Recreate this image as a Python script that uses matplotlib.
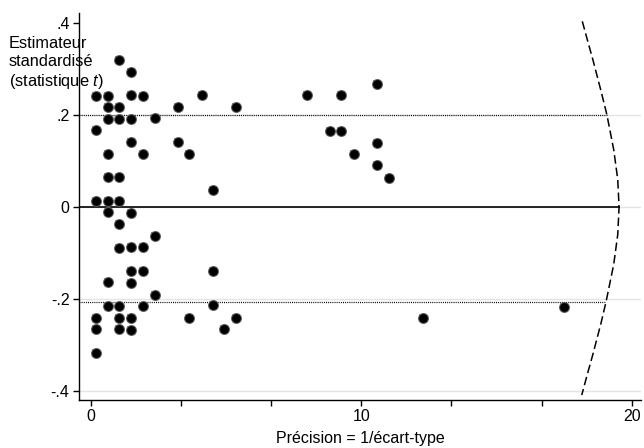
import numpy as np
import matplotlib
matplotlib.use('Agg')
import matplotlib.pyplot as plt

plt.rcParams['font.family'] = ['Liberation Sans', 'DejaVu Sans']
plt.rcParams['mathtext.fontset'] = 'custom'
plt.rcParams['mathtext.it'] = 'Liberation Sans:italic'
plt.rcParams['mathtext.rm'] = 'Liberation Sans'

# precision (1/se) and standardised estimate
precision = [0.2, 0.2, 0.2, 0.2, 0.2, 0.2,
             0.65, 0.65, 0.65, 0.65, 0.65, 0.65, 0.65, 0.65, 0.65,
             1.065, 1.065, 1.065, 1.065, 1.065, 1.065, 1.065, 1.065, 1.065, 1.065,
             1.49, 1.49, 1.49, 1.49, 1.49, 1.49, 1.49, 1.49, 1.49, 1.49,
             1.93, 1.93, 1.93, 1.93, 1.93,
             2.38, 2.38, 2.38,
             3.23, 3.23,
             3.65, 3.65,
             4.11,
             4.52, 4.52, 4.52,
             4.94,
             5.37, 5.37,
             7.99,
             8.85,
             9.26, 9.26,
             9.73,
             10.58, 10.58, 10.58,
             11.02,
             12.3,
             17.5]
t_stat = [0.241, 0.167, 0.014, -0.241, -0.265, -0.317,
          0.241, 0.217, 0.191, 0.114, 0.066, 0.013, -0.011, -0.163, -0.214,
          0.32, 0.217, 0.191, 0.066, 0.013, -0.036, -0.089, -0.214, -0.241, -0.265,
          0.294, 0.243, 0.191, 0.141, -0.012, -0.086, -0.138, -0.165, -0.240, -0.266,
          0.241, 0.114, -0.086, -0.139, -0.214,
          0.193, -0.062, -0.19,
          0.216, 0.141,
          0.114, -0.240,
          0.243,
          0.038, -0.138, -0.213,
          -0.265,
          0.216, -0.240,
          0.243,
          0.165,
          0.243, 0.165,
          0.114,
          0.268, 0.14, 0.0905,
          0.064,
          -0.241,
          -0.216]

# dashed funnel boundary
curve_y = [0.403, 0.36, 0.32, 0.25, 0.2, 0.125, 0.06, 0.0,
           -0.06, -0.125, -0.205, -0.25, -0.32, -0.36, -0.408]
curve_x = [18.17, 18.37, 18.56, 18.87, 19.08, 19.33, 19.48, 19.53,
           19.48, 19.33, 19.05, 18.87, 18.56, 18.37, 18.15]

upper_ref = 0.2
lower_ref = -0.205

fig = plt.figure(figsize=(6.44, 4.48), dpi=100)
ax = fig.add_axes([79.3 / 644, 48.5 / 448, (641 - 79.3) / 644, (435 - 48.5) / 448])
ax.set_xlim(-0.42, 20.34)
ax.set_ylim(-0.4176, 0.421)

for g in [-0.4, -0.2, 0.0, 0.2]:
    ax.axhline(g, color='#e4e4e4', lw=1.0, zorder=0)

ax.plot([-0.42, curve_x[4]], [upper_ref, upper_ref], color='black', lw=0.9, ls=(0, (0.8, 0.9)), zorder=1)
ax.plot([-0.42, curve_x[10]], [lower_ref, lower_ref], color='black', lw=0.9, ls=(0, (0.8, 0.9)), zorder=1)
ax.plot([-0.42, curve_x[7]], [0, 0], color='black', lw=1.2, zorder=1)
ax.plot(curve_x, curve_y, color='black', lw=1.1, dashes=(5.6, 2.6), zorder=1)

ax.scatter(precision, t_stat, marker='s', s=40, color='#a0a0a0', linewidths=0, zorder=2)
ax.scatter(precision, t_stat, marker='o', s=62, color='#5a5a5a', linewidths=0, zorder=2)
ax.scatter(precision, t_stat, marker='o', s=40, color='black', linewidths=0, zorder=3)

for s in ['top', 'right']:
    ax.spines[s].set_visible(False)
for s in ['left', 'bottom']:
    ax.spines[s].set_linewidth(1.0)

ax.set_yticks([-0.4, -0.2, 0, 0.2, 0.4])
ax.set_yticklabels(['-.4', '-.2', '0', '.2', '.4'])
ax.set_xticks(np.linspace(0, 20, 7))
ax.set_xticklabels(['0', '', '', '10', '', '', '20'])
ax.tick_params(axis='both', direction='out', length=4, width=1.0, labelsize=11.5, pad=3)

ax.set_xlabel('Précision = 1/écart-type', fontsize=11.5, labelpad=5)
fig.text(9 / 644, 1 - 36 / 448, 'Estimateur\nstandardisé\n(statistique $t$)',
         fontsize=11.8, ha='left', va='top', linespacing=1.22)

fig.savefig('out.png', dpi=100)
